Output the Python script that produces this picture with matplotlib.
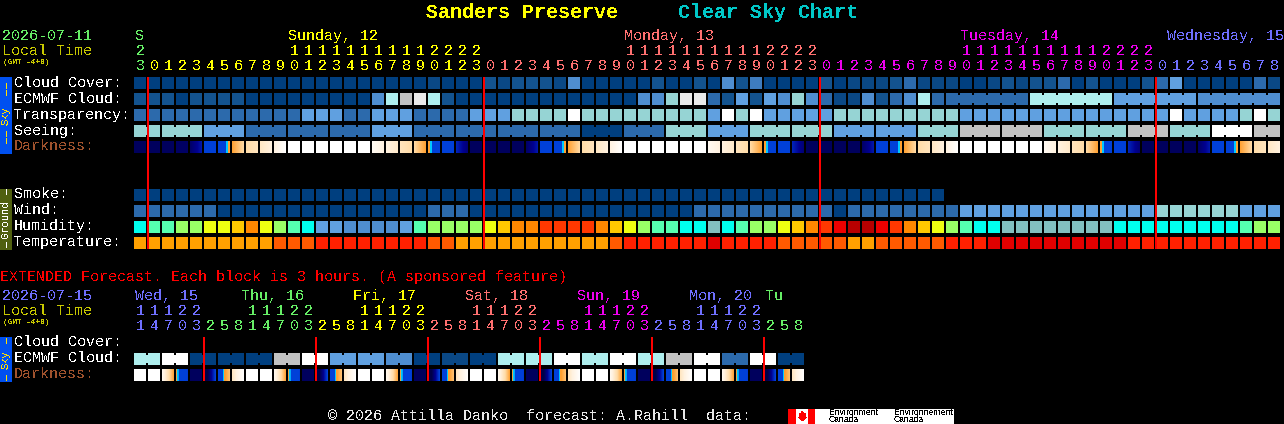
# coding: utf-8

import numpy as np
from matplotlib import pyplot as plt
from matplotlib.colors import to_rgb
from matplotlib.patches import Rectangle, Polygon

plt.rcParams['font.family'] = ['Liberation Mono', 'DejaVu Sans Mono']
plt.rcParams['text.antialiased'] = False

# colour codes used by the rows
palette = {
    'a': '#003f7f', 'k': '#0a4885', 'b': '#13538f', 'c': '#2c6aac', 'm': '#3e7cbf',
    'd': '#4f8ed0', 'e': '#60a0e0', 'f': '#96d4d4', 'g': '#aeeeee', 'w': '#ffffff',
    'h': '#eaeaea', 's': '#c2c2c2',
    'C': '#00ffee', 'n': '#55ffb0', 'l': '#99ff66', 'y': '#eeff11', 'Y': '#ffc800',
    'O': '#ff8800', 'T': '#ff3800', 'U': '#ee0000', 'V': '#b80000', 't': '#82bfbf',
    'o': '#ffa000', 'p': '#ff5a00', 'r': '#ff2000', 'R': '#e00000',
}

# main forecast, one block an hour
hours = [23] + list(range(24)) * 3 + list(range(9))
hour_days = [0] + [1] * 24 + [2] * 24 + [3] * 24 + [4] * 9
day_colors = ['#66ee66', '#ffff00', '#ff7070', '#ee00ee', '#6f6fff']

cloud_cover = ("aaaaaaaaaa" "aaaaaaaaaa" "akaaabkbbb" "kdaaaaabaa" "badbmaaaab"
               "akkkbckkka" "akbkbbcaba" "aabceaaaaa" "ck")
ecmwf_cloud = ("bbbabbbbaa" "aaaaaaadgs" "hgbaaaaaaa" "aaaaaaddfh" "hcbebedfdc"
               "kkdbcdgccc" "ccccgggggg" "eeeeeedddd" "dd")
transparency = ("cccccccccc" "cceeecceee" "cccceeefff" "fwffffffff" "fewfweeeee"
                "fffffffffe" "eeeeeeeeee" "eeeeweeeef" "wf")
seeing = ("fffffeeecc" "ccccccceee" "cccccccccc" "ccaaacccff" "feeeffffff"
          "eeeeeefffs" "sssssfffff" "fsssfffwww" "ss")
smoke = "a" * 58
wind = ("ccccccaaaa" "aaaaaaaaaa" "acccaaaaaa" "aaaaaaaaaa" "cccccccccc"
        "acccccccce" "eeeeeeeeee" "eeeffffffe" "ee")
humidity = ("CnnllyyYOy" "lnCeedddde" "nllllyYOOT" "TTTOYylnnC" "CtCnllyYOT"
            "UVVUTOYyln" "CCtttttttt" "CCCCCCCCCn" "ll")
temperature = ("oooooooooo" "ppprrrrrrr" "rppooooooo" "ooooprrrrr" "rRrrrrpppp"
               "pooppppprr" "rRRRRRRRRR" "Rrrrrrrrrr" "rr")

# darkness, value at left and right edge of each block
dark_left = [.3, .3, .3, .4, .4, 2, 2, 3, 4, 4.5, 5, 6, 6, 6, 6, 6, 6, 5.6, 5, 4.4, 4, 3, 2, 1.6,
             .3, .3, .3, .3, .4, 2, 2, 3, 4, 4.5, 5, 6, 6, 6, 6, 6, 6, 5.6, 5, 4.4, 4, 3, 2, 1.6,
             .3, .3, .3, .3, .4, 2, 2, 3, 4, 4.5, 5, 6, 6, 6, 6, 6, 6, 5.6, 5, 4.4, 4, 3, 2, 1.6,
             .3, .3, .3, .3, .4, 2, 2, 3, 4, 4.5]
dark_right = [.3, .3, .3, .4, 1.4, 2, 3, 4, 4.4, 5, 6, 6, 6, 6, 6, 6, 6, 5, 4.6, 4, 3, 2, 2, .6,
              .3, .3, .3, .3, 1.4, 2, 3, 4, 4.4, 5, 6, 6, 6, 6, 6, 6, 6, 5, 4.6, 4, 3, 2, 2, .6,
              .3, .3, .3, .3, 1.4, 2, 3, 4, 4.4, 5, 6, 6, 6, 6, 6, 6, 6, 5, 4.6, 4, 3, 2, 2, .6,
              .3, .3, .3, .3, 1.4, 2, 3, 4, 4.4, 5]

# extended forecast, one block is 3 hours
ext_hours = [11, 14, 17, 20, 23, 2, 5, 8, 11, 14, 17, 20, 23, 2, 5, 8, 11, 14, 17, 20, 23, 2, 5, 8,
             11, 14, 17, 20, 23, 2, 5, 8, 11, 14, 17, 20, 23, 2, 5, 8, 11, 14, 17, 20, 23, 2, 5, 8]
ext_days = [0] * 5 + [1] * 8 + [2] * 8 + [3] * 8 + [4] * 8 + [5] * 8 + [1] * 3
ext_day_colors = ['#6f6fff', '#66ee66', '#ffff00', '#ff7070', '#ee00ee', '#6f6fff']
ext_cloud = "ggwwaaaaaassww" "eeeeddaakkaagggg" "wwggwwggsswwccwwaa"
ext_dark_left = [6, 6, 5.5, 2.9, .3, -1, 2, 4.4,
                 6, 6, 5.5, 2.9, .3, -1, 2, 4.4,
                 6, 6, 5.5, 2.9, .3, -1, 2, 4.4,
                 6, 6, 5.5, 2.9, .3, -1, 2, 4.4,
                 6, 6, 5.5, 2.9, .3, -1, 2, 4.4,
                 6, 6, 5.5, 2.9, .3, -1, 2, 4.4]
ext_dark_right = [6, 6, 3, 1.9, .3, 2.2, 3.6, 6,
                  6, 6, 3, 1.9, .3, 2.2, 3.6, 6,
                  6, 6, 3, 1.9, .3, 2.2, 3.6, 6,
                  6, 6, 3, 1.9, .3, 2.2, 3.6, 6,
                  6, 6, 3, 1.9, .3, 2.2, 3.6, 6,
                  6, 6, 3, 1.9, .3, 2.2, 3.6, 6]

# scale of the darkness row
dark_stops = [0, 1, 2, 2.66, 2.7, 2.84, 2.86, 3, 4, 5, 6]
dark_colors = ['#000048', '#000090', '#0040d8', '#0040d8', '#00c8ff', '#00c8ff',
               '#ffa030', '#ffa030', '#ffdca8', '#fff2e0', '#ffffff']

X0 = 134
STEP = 14
SIZE = 12
MONO_SIZE = 10.8
TEXT_DY = 1


def cell_x(i):
    return X0 + STEP * i


def draw_row(ax, codes, y, joined=()):
    for i, code in enumerate(codes):
        ax.add_patch(Rectangle((cell_x(i), y), SIZE, SIZE, color=palette[code], lw=0, antialiased=False))
    # blocks with the same forecast are tied together, a bit lower than the block
    for i in joined:
        ax.add_patch(Rectangle((cell_x(i) + SIZE, y + 2), STEP - SIZE, SIZE - 4, color=palette[codes[i]],
                               lw=0, antialiased=False))


def draw_darkness(ax, left, right, y):
    rgb = np.array([to_rgb(c) for c in dark_colors])
    for i in range(len(left)):
        vals = left[i] + (right[i] - left[i]) * (np.arange(SIZE) + 0.5) / SIZE
        strip = np.stack([np.interp(vals, dark_stops, rgb[:, k]) for k in range(3)], axis=1)[None, :, :]
        ax.imshow(strip, extent=[cell_x(i), cell_x(i) + SIZE, y + SIZE, y], interpolation='nearest', aspect='auto')


def draw_hours(ax, hour_list, day_list, colors, y_tens, y_units):
    for i, h in enumerate(hour_list):
        c = colors[day_list[i]]
        x = cell_x(i) + 2
        if h >= 10:
            ax.text(x, y_tens + TEXT_DY, str(h // 10), color=c, ha='left', va='center', fontsize=MONO_SIZE)
        ax.text(x, y_units + TEXT_DY, str(h % 10), color=c, ha='left', va='center', fontsize=MONO_SIZE)


def label(ax, x, y, s, color='#ffffff', size=MONO_SIZE, weight='normal'):
    ax.text(x, y + TEXT_DY, s, color=color, ha='left', va='center', fontsize=size, fontweight=weight)


def side_bar(ax, y0, y1, color, text_color, name, dash_top, dash_bottom):
    ax.add_patch(Rectangle((0, y0), 12, y1 - y0, color=color, lw=0, antialiased=False))
    ax.text(5.5, (y0 + y1) / 2, name, color=text_color, rotation=90, ha='center', va='center', fontsize=7.6)
    ax.plot([5.5, 5.5], dash_top, color=text_color, lw=1, ls=(0, (4, 1)), antialiased=False)
    ax.plot([5.5, 5.5], dash_bottom, color=text_color, lw=1, ls=(0, (4, 1)), antialiased=False)


def red_line(ax, x, y0, y1):
    # 2 px wide at dpi 100
    ax.plot([x, x], [y0, y1], color='#ff0000', lw=1.44, solid_capstyle='butt', antialiased=False)


def main():
    fig = plt.figure(figsize=(12.84, 4.24), dpi=100, facecolor='black')
    ax = fig.add_axes([0, 0, 1, 1], facecolor='black')

    # title
    label(ax, 426, 11, "Sanders Preserve", color='#ffff00', size=14.4, weight='bold')
    label(ax, 678, 11, "Clear Sky Chart", color='#00c8c8', size=14.4, weight='bold')

    # header of the main block
    label(ax, 2, 35, "2026-07-11", color='#66ee66')
    label(ax, 2, 50, "Local Time", color='#c8c800')
    label(ax, 3, 62, "(GMT -4+0)", color='#c8c800', size=5.6, weight='bold')
    label(ax, 135, 35, "S", color=day_colors[0])
    label(ax, 288, 35, "Sunday, 12", color=day_colors[1])
    label(ax, 624, 35, "Monday, 13", color=day_colors[2])
    label(ax, 960, 35, "Tuesday, 14", color=day_colors[3])
    label(ax, 1167, 35, "Wednesday, 15", color=day_colors[4])
    draw_hours(ax, hours, hour_days, day_colors, 50, 65)

    # sky rows
    row_names = ["Cloud Cover:", "ECMWF Cloud:", "Transparency:", "Seeing:"]
    row_y = [77, 93, 109, 125]
    seeing_joined = [i for i in range(len(seeing) - 1) if (i + 1) % 3 != 2]
    ecmwf_joined = [i for i in range(58, len(ecmwf_cloud) - 1) if (i + 1) % 6 != 4]
    for name, y in zip(row_names, row_y):
        label(ax, 14, y + 5, name)
    label(ax, 14, 145, "Darkness:", color='#a0522d')
    draw_row(ax, cloud_cover, 77)
    draw_row(ax, ecmwf_cloud, 93, ecmwf_joined)
    draw_row(ax, transparency, 109)
    draw_row(ax, seeing, 125, seeing_joined)
    draw_darkness(ax, dark_left, dark_right, 141)

    # ground rows
    label(ax, 14, 193, "Smoke:")
    label(ax, 14, 209, "Wind:")
    label(ax, 14, 225, "Humidity:")
    label(ax, 14, 241, "Temperature:")
    draw_row(ax, smoke, 189)
    draw_row(ax, wind, 205)
    draw_row(ax, humidity, 221)
    draw_row(ax, temperature, 237)

    side_bar(ax, 77, 154, '#0050f0', '#ffe000', "Sky", [83, 96], [131, 143])
    side_bar(ax, 189, 250, '#506010', '#ffffff', "Ground", [189, 195], [242, 248])

    # midnight lines
    for i in [0, 24, 48, 72]:
        red_line(ax, cell_x(i) + 14, 77, 249)

    # extended forecast
    label(ax, 0, 276, "EXTENDED Forecast. Each block is 3 hours. (A sponsored feature)", color='#ff0000')
    label(ax, 2, 295, "2026-07-15", color='#6f6fff')
    label(ax, 2, 310, "Local Time", color='#c8c800')
    label(ax, 3, 322, "(GMT -4+0)", color='#c8c800', size=5.6, weight='bold')
    label(ax, 135, 295, "Wed, 15", color=ext_day_colors[0])
    label(ax, 241, 295, "Thu, 16", color=ext_day_colors[1])
    label(ax, 353, 295, "Fri, 17", color=ext_day_colors[2])
    label(ax, 465, 295, "Sat, 18", color=ext_day_colors[3])
    label(ax, 577, 295, "Sun, 19", color=ext_day_colors[4])
    label(ax, 689, 295, "Mon, 20", color=ext_day_colors[5])
    label(ax, 765, 295, "Tu", color=ext_day_colors[1])
    draw_hours(ax, ext_hours, ext_days, ext_day_colors, 310, 325)

    label(ax, 14, 341, "Cloud Cover:")
    label(ax, 14, 357, "ECMWF Cloud:")
    label(ax, 14, 373, "Darkness:", color='#a0522d')
    draw_row(ax, ext_cloud, 353, list(range(0, 48, 2)))
    draw_darkness(ax, ext_dark_left, ext_dark_right, 369)
    side_bar(ax, 337, 382, '#0050f0', '#ffe000', "Sky", [338, 345], [375, 381])

    for i in range(5, 48, 8):
        red_line(ax, cell_x(i), 337, 381)

    # footer
    label(ax, 328, 415, "\u00a9 2026 Attilla Danko  forecast: A.Rahill  data:", color='#e8e8e8')
    ax.add_patch(Rectangle((788, 409), 166, 15, color='#ffffff', lw=0, antialiased=False))
    ax.add_patch(Rectangle((788, 409), 8, 15, color='#ff0000', lw=0, antialiased=False))
    ax.add_patch(Rectangle((808, 409), 7, 15, color='#ff0000', lw=0, antialiased=False))
    leaf = [(802, 411), (804, 414), (806, 413), (805.5, 417), (807, 417), (802.5, 421), (798, 417), (799.5, 417),
            (799, 413), (801, 414)]
    ax.add_patch(Polygon(leaf, color='#ff0000', lw=0, antialiased=False))
    for x, word in [(829, "Environment"), (894, "Environnement")]:
        ax.text(x, 412.5, word, color='black', ha='left', va='center', fontsize=6.2, family='Liberation Sans')
        ax.text(x, 420, "Canada", color='black', ha='left', va='center', fontsize=6.2, family='Liberation Sans')

    ax.set_xlim(0, 1284)
    ax.set_ylim(424, 0)
    ax.axis('off')
    plt.savefig("out.png", dpi=100, facecolor='black')


if __name__ == '__main__':
    main()
